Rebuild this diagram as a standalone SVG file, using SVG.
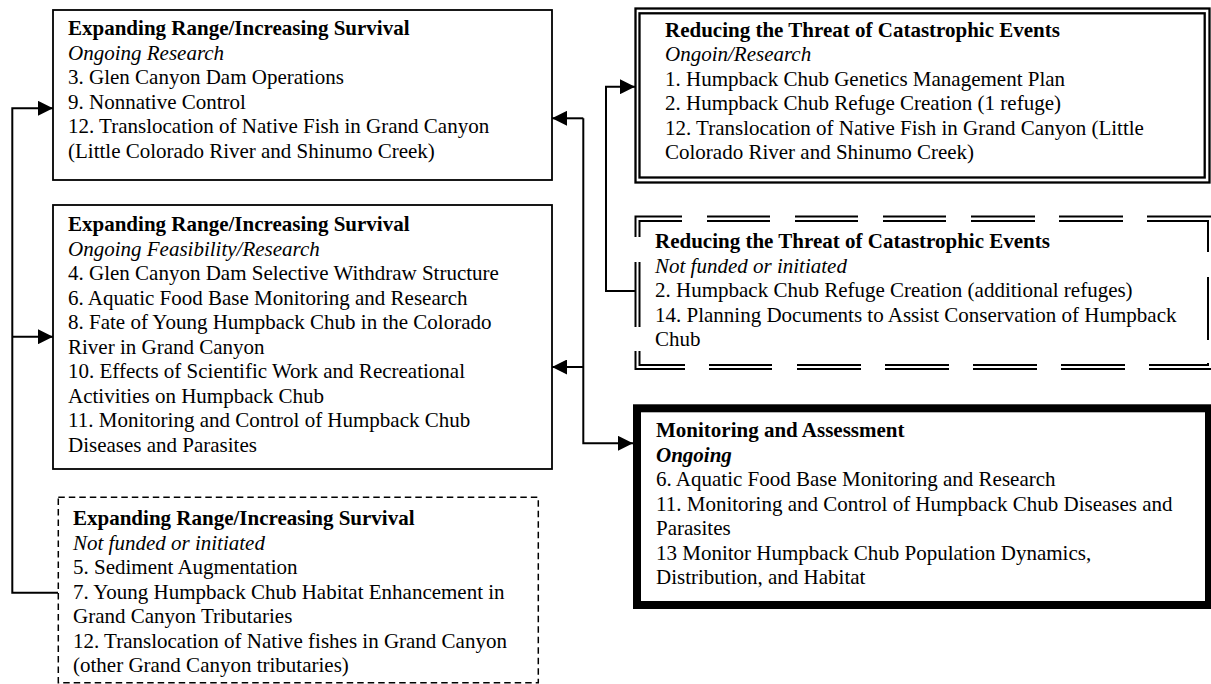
<svg xmlns="http://www.w3.org/2000/svg" width="1211" height="684" viewBox="0 0 1211 684">
<style>
text{font-family:"Liberation Serif","Times New Roman",serif;font-size:21px;fill:#000}
.t{font-weight:bold}
.s{font-style:italic}
.box{fill:#fff;stroke:#000;stroke-width:1.8}
.dash{fill:#fff;stroke:#000;stroke-width:1.5;stroke-dasharray:6.5 4}
.dbl{fill:none;stroke:#000;stroke-width:2.3}
.dd{fill:none;stroke:#000;stroke-width:2}
.thick{fill:#fff;stroke:#000;stroke-width:8}
.con{fill:none;stroke:#000;stroke-width:2}
</style>
<defs>
<marker id="ah" markerUnits="userSpaceOnUse" markerWidth="15" markerHeight="15" refX="15" refY="7.5" orient="auto">
<path d="M0,0 L15,7.5 L0,15 z" fill="#000"/>
</marker>
</defs>
<rect width="1211" height="684" fill="#fff"/>

<g id="connectors">
<path class="con" d="M58,592.7 H12.3 V108.3 H53" marker-end="url(#ah)"/>
<path class="con" d="M12.3,336.7 H53" marker-end="url(#ah)"/>
<path class="con" d="M583.3,118.3 H552" marker-end="url(#ah)"/>
<path class="con" d="M583.3,118.3 V443.3 H633" marker-end="url(#ah)"/>
<path class="con" d="M583.3,367 H552" marker-end="url(#ah)"/>
<path class="con" d="M635,291 H606 V86.7 H635" marker-end="url(#ah)"/>
</g>

<g id="node-range-ongoing-research">
<rect class="box" x="53" y="10" width="499" height="170"/>
<text x="68" y="35"><tspan class="t" x="68">Expanding Range/Increasing Survival</tspan><tspan class="s" x="68" dy="24.5">Ongoing Research</tspan><tspan x="68" dy="24.5">3. Glen Canyon Dam Operations</tspan><tspan x="68" dy="24.5">9. Nonnative Control</tspan><tspan x="68" dy="24.5">12. Translocation of Native Fish in Grand Canyon</tspan><tspan x="68" dy="24.5">(Little Colorado River and Shinumo Creek)</tspan></text>
</g>

<g id="node-range-feasibility">
<rect class="box" x="53" y="205" width="499" height="264"/>
<text x="68" y="231"><tspan class="t" x="68">Expanding Range/Increasing Survival</tspan><tspan class="s" x="68" dy="24.5">Ongoing Feasibility/Research</tspan><tspan x="68" dy="24.5">4. Glen Canyon Dam Selective Withdraw Structure</tspan><tspan x="68" dy="24.5">6. Aquatic Food Base Monitoring and Research</tspan><tspan x="68" dy="24.5">8. Fate of Young Humpback Chub in the Colorado</tspan><tspan x="68" dy="24.5">River in Grand Canyon</tspan><tspan x="68" dy="24.5">10. Effects of Scientific Work and Recreational</tspan><tspan x="68" dy="24.5">Activities on Humpback Chub</tspan><tspan x="68" dy="24.5">11. Monitoring and Control of Humpback Chub</tspan><tspan x="68" dy="24.5">Diseases and Parasites</tspan></text>
</g>

<g id="node-range-not-funded">
<rect class="dash" x="58.3" y="497.3" width="480" height="185.4"/>
<text x="73" y="525"><tspan class="t" x="73">Expanding Range/Increasing Survival</tspan><tspan class="s" x="73" dy="24.5">Not funded or initiated</tspan><tspan x="73" dy="24.5">5. Sediment Augmentation</tspan><tspan x="73" dy="24.5">7. Young Humpback Chub Habitat Enhancement in</tspan><tspan x="73" dy="24.5">Grand Canyon Tributaries</tspan><tspan x="73" dy="24.5">12. Translocation of Native fishes in Grand Canyon</tspan><tspan x="73" dy="24.5">(other Grand Canyon tributaries)</tspan></text>
</g>

<g id="node-threat-ongoing">
<rect x="635.5" y="8.5" width="574" height="174" fill="#fff"/>
<rect class="dbl" x="635.5" y="8.5" width="574" height="174"/>
<rect class="dbl" x="639.5" y="13.3" width="565.2" height="164.2"/>
<text x="665" y="36.5"><tspan class="t" x="665">Reducing the Threat of Catastrophic Events</tspan><tspan class="s" x="665" dy="24.5">Ongoin/Research</tspan><tspan x="665" dy="24.5">1. Humpback Chub Genetics Management Plan</tspan><tspan x="665" dy="24.5">2. Humpback Chub Refuge Creation (1 refuge)</tspan><tspan x="665" dy="24.5">12. Translocation of Native Fish in Grand Canyon (Little</tspan><tspan x="665" dy="24.5">Colorado River and Shinumo Creek)</tspan></text>
</g>

<g id="node-threat-not-funded">
<path class="dd" d="M635.5,237 V216.5 H682 M639.5,237 V221 H682
M707,216.5 H770 M707,221 H770 M795,216.5 H858 M795,221 H858 M883,216.5 H946 M883,221 H946 M971,216.5 H1035 M971,221 H1035 M1059,216.5 H1123 M1059,221 H1123
M1147,216.5 H1212 V252 M1147,221 H1208 V252
M1212,277 V340 M1208,277 V340
M1212,363 V369 H1149 M1208,363 V365 H1149
M709,369 H772 M709,365 H772 M797,369 H861 M797,365 H861 M885,369 H949 M885,365 H949 M973,369 H1037 M973,365 H1037 M1061,369 H1125 M1061,365 H1125
M635.5,351 V369 H685 M639.5,351 V365 H685
M635.5,262 V327 M639.5,262 V327"/>
<text x="655" y="248"><tspan class="t" x="655">Reducing the Threat of Catastrophic Events</tspan><tspan class="s" x="655" dy="24.5">Not funded or initiated</tspan><tspan x="655" dy="24.5">2. Humpback Chub Refuge Creation (additional refuges)</tspan><tspan x="655" dy="24.5">14. Planning Documents to Assist Conservation of Humpback</tspan><tspan x="655" dy="24.5">Chub</tspan></text>
</g>

<g id="node-monitoring">
<rect class="thick" x="637" y="408.3" width="572" height="196.7"/>
<text x="656" y="437"><tspan class="t" x="656">Monitoring and Assessment</tspan><tspan class="t s" x="656" dy="24.5">Ongoing</tspan><tspan x="656" dy="24.5">6. Aquatic Food Base Monitoring and Research</tspan><tspan x="656" dy="24.5">11. Monitoring and Control of Humpback Chub Diseases and</tspan><tspan x="656" dy="24.5">Parasites</tspan><tspan x="656" dy="24.5">13 Monitor Humpback Chub Population Dynamics,</tspan><tspan x="656" dy="24.5">Distribution, and Habitat</tspan></text>
</g>
</svg>
